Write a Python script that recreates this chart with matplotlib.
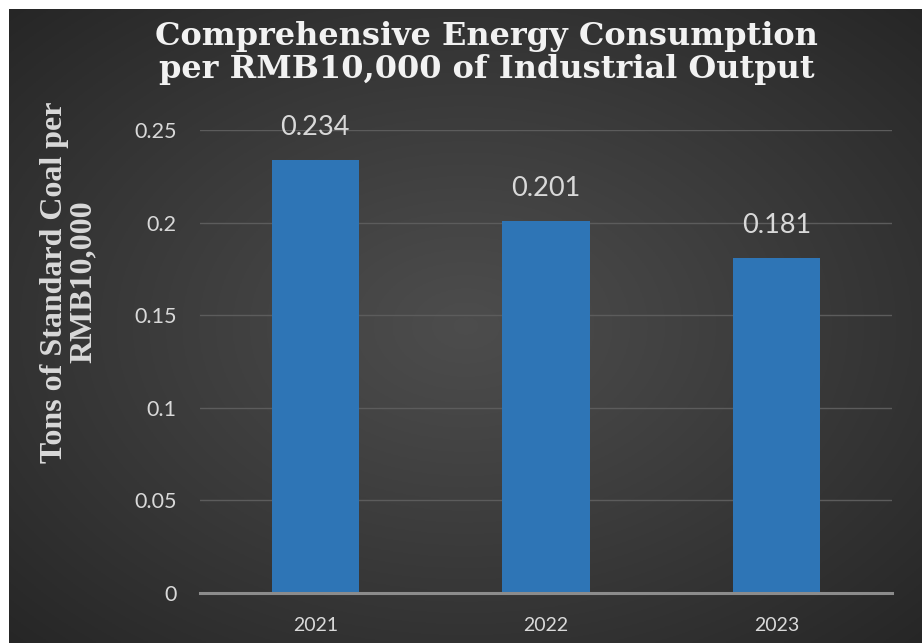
import matplotlib.pyplot as plt
import numpy as np

years = ['2021', '2022', '2023']
values = [0.234, 0.201, 0.181]
yticks = [0, 0.05, 0.1, 0.15, 0.2, 0.25]
ytick_labels = ['0', '0.05', '0.1', '0.15', '0.2', '0.25']

W, H = 922, 643
fig = plt.figure(figsize=(W / 100, H / 100), dpi=100)
fig.patch.set_facecolor('white')

# dark radial background (chart area starts 9px in from left/top)
bg = fig.add_axes([9 / W, 0, 1 - 9 / W, 1 - 9 / H])
bg.set_axis_off()
gx, gy = np.meshgrid(np.linspace(-1, 1, 400), np.linspace(-1, 1, 300))
r = np.sqrt(gx ** 2 + gy ** 2) / np.sqrt(2)
shade = 0.30 - 0.15 * np.clip(r, 0, 1) ** 1.1
bg.imshow(np.dstack([shade] * 3), aspect='auto', extent=[0, 1, 0, 1])

ax = fig.add_axes([200 / W, 1 - 593 / H, 692 / W, 463 / H])
ax.patch.set_alpha(0)
x = np.arange(len(years))
ax.bar(x, values, width=0.38, color='#2e75b6', zorder=3)
ax.set_xlim(-0.5, 2.5)
ax.set_ylim(0, 0.25)
ax.set_yticks(yticks)
ax.set_yticklabels(ytick_labels)
ax.set_xticks(x)
ax.set_xticklabels(years)
ax.grid(axis='y', color='#5c5c5c', linewidth=1, zorder=0)
ax.set_axisbelow(True)
for s in ['top', 'right', 'left']:
    ax.spines[s].set_visible(False)
ax.spines['bottom'].set_color('#8c8c8c')
ax.spines['bottom'].set_linewidth(2.2)
ax.spines['bottom'].set_zorder(4)
ax.tick_params(length=0, labelcolor='#d9d9d9')
ax.tick_params(axis='y', pad=17, labelsize=15.5)
ax.tick_params(axis='x', pad=17, labelsize=14)
for lab in ax.get_xticklabels() + ax.get_yticklabels():
    lab.set_family('Lato')

for xi, v in zip(x, values):
    ax.annotate(f'{v:.3f}', (xi, v), xytext=(0, 14), textcoords='offset points',
                ha='center', va='bottom', fontsize=19.5, color='#d9d9d9', family='Lato')

fig.text(0.528, 1 - 53 / H, 'Comprehensive Energy Consumption\nper RMB10,000 of Industrial Output',
         ha='center', va='center', fontsize=23, fontweight='bold', color='#f2f2f2',
         family='DejaVu Serif', linespacing=1.12)

fig.text(69 / W, 1 - 282 / H, 'Tons of Standard Coal per\nRMB10,000', rotation=90,
         ha='center', va='center', fontsize=23, fontweight='bold', color='#d9d9d9',
         family='Liberation Serif', linespacing=1.0)

fig.savefig('out.png', dpi=100)
